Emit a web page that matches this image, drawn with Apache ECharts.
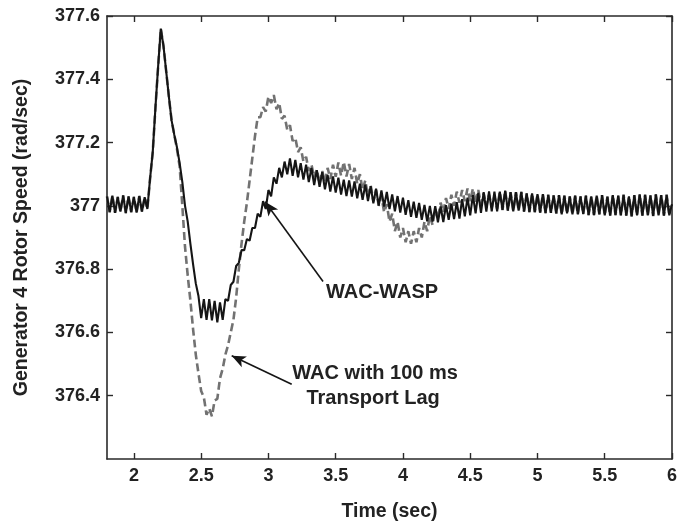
<!DOCTYPE html>
<html><head><meta charset="utf-8">
<script src="https://cdn.jsdelivr.net/npm/echarts@6/dist/echarts.min.js"></script>
<style>html,body{margin:0;padding:0;background:#fff}#c{width:690px;height:527px}</style>
</head><body><div id="c"></div>
<script>
// sample times (sec)
const timeSec = [
1.80,1.82,1.84,1.86,1.88,1.90,1.92,1.94,1.96,1.98,
2.00,2.02,2.04,2.06,2.08,2.10,2.12,2.14,2.16,2.18,
2.20,2.22,2.24,2.26,2.28,2.30,2.32,2.34,2.36,2.38,
2.40,2.42,2.44,2.46,2.48,2.50,2.52,2.54,2.56,2.58,
2.60,2.62,2.64,2.66,2.68,2.70,2.72,2.74,2.76,2.78,
2.80,2.82,2.84,2.86,2.88,2.90,2.92,2.94,2.96,2.98,
3.00,3.02,3.04,3.06,3.08,3.10,3.12,3.14,3.16,3.18,
3.20,3.22,3.24,3.26,3.28,3.30,3.32,3.34,3.36,3.38,
3.40,3.42,3.44,3.46,3.48,3.50,3.52,3.54,3.56,3.58,
3.60,3.62,3.64,3.66,3.68,3.70,3.72,3.74,3.76,3.78,
3.80,3.82,3.84,3.86,3.88,3.90,3.92,3.94,3.96,3.98,
4.00,4.02,4.04,4.06,4.08,4.10,4.12,4.14,4.16,4.18,
4.20,4.22,4.24,4.26,4.28,4.30,4.32,4.34,4.36,4.38,
4.40,4.42,4.44,4.46,4.48,4.50,4.52,4.54,4.56,4.58,
4.60,4.62,4.64,4.66,4.68,4.70,4.72,4.74,4.76,4.78,
4.80,4.82,4.84,4.86,4.88,4.90,4.92,4.94,4.96,4.98,
5.00,5.02,5.04,5.06,5.08,5.10,5.12,5.14,5.16,5.18,
5.20,5.22,5.24,5.26,5.28,5.30,5.32,5.34,5.36,5.38,
5.40,5.42,5.44,5.46,5.48,5.50,5.52,5.54,5.56,5.58,
5.60,5.62,5.64,5.66,5.68,5.70,5.72,5.74,5.76,5.78,
5.80,5.82,5.84,5.86,5.88,5.90,5.92,5.94,5.96,5.98,
6.00];

// WAC-WASP (solid black), rad/sec
const waspSpeed = [
377.030,376.980,377.032,376.978,377.028,376.982,377.033,376.977,377.030,376.980,
377.028,376.979,377.031,376.982,377.027,376.990,377.085,377.170,377.310,377.440,
377.560,377.505,377.425,377.345,377.270,377.225,377.185,377.135,377.075,377.000,
376.950,376.880,376.815,376.755,376.715,376.645,376.705,376.640,376.705,376.638,
376.700,376.632,376.695,376.640,376.705,376.700,376.750,376.760,376.810,376.820,
376.860,376.860,376.895,376.890,376.930,376.930,376.975,376.965,377.015,376.990,
377.050,377.030,377.090,377.070,377.120,377.090,377.140,377.100,377.150,377.095,
377.145,377.090,377.135,377.083,377.130,377.075,377.120,377.066,377.113,377.060,
377.107,377.052,377.098,377.045,377.093,377.042,377.089,377.036,377.083,377.031,
377.080,377.029,377.077,377.024,377.070,377.019,377.067,377.015,377.062,377.008,
377.054,377.001,377.049,376.998,377.044,376.990,377.036,376.983,377.031,376.979,
377.026,376.972,377.018,376.965,377.013,376.962,377.009,376.956,377.003,376.951,
377.000,376.950,376.999,376.948,376.998,376.949,377.002,376.956,377.007,376.958,
377.012,376.960,377.021,376.967,377.026,376.970,377.034,376.976,377.041,376.978,
377.043,376.982,377.046,376.983,377.045,376.983,377.045,376.987,377.048,376.985,
377.043,376.983,377.043,376.985,377.044,376.982,377.039,376.980,377.039,376.980,
377.037,376.979,377.037,376.977,377.035,376.978,377.033,376.976,377.034,376.973,
377.032,376.976,377.030,376.973,377.032,376.973,377.030,376.974,377.032,376.971,
377.030,376.971,377.032,376.973,377.034,376.970,377.029,376.969,377.034,376.971,
377.032,376.970,377.035,376.969,377.030,376.967,377.034,376.970,377.036,376.969,
377.035,376.970,377.033,376.968,377.036,376.970,377.034,376.969,377.035,376.970,
377.005];

// WAC with 100 ms transport lag (dashed gray), rad/sec
const lagSpeed = [
377.030,376.980,377.032,376.978,377.028,376.982,377.033,376.977,377.030,376.980,
377.028,376.979,377.031,376.982,377.027,376.990,377.085,377.170,377.310,377.440,
377.560,377.505,377.425,377.345,377.270,377.225,377.180,377.125,377.000,376.870,
376.780,376.700,376.610,376.530,376.470,376.415,376.395,376.340,376.360,376.335,
376.385,376.390,376.455,376.485,376.530,376.560,376.600,376.640,376.710,376.800,
376.880,376.950,377.010,377.080,377.150,377.220,377.280,377.280,377.312,377.298,
377.345,377.325,377.350,377.305,377.325,377.275,377.285,377.240,377.255,377.205,
377.215,377.170,377.185,377.140,377.155,377.110,377.130,377.090,377.115,377.070,
377.110,377.075,377.120,377.085,377.130,377.092,377.137,377.095,377.139,377.093,
377.132,377.085,377.120,377.070,377.100,377.050,377.080,377.030,377.065,377.015,
377.050,377.000,377.030,376.980,377.005,376.950,376.975,376.920,376.950,376.900,
376.930,376.885,376.920,376.880,376.920,376.885,376.930,376.900,376.950,376.920,
376.970,376.940,376.990,376.960,377.010,376.980,377.025,376.990,377.035,377.000,
377.045,377.010,377.050,377.015,377.055,377.015,377.055,377.010,377.050,377.005,
377.040,377.000,377.035,376.995,377.030,376.990,377.045,376.987,377.048,376.985,
377.043,376.983,377.043,376.985,377.044,376.982,377.039,376.980,377.039,376.980,
377.037,376.979,377.037,376.977,377.035,376.978,377.033,376.976,377.034,376.973,
377.032,376.976,377.030,376.973,377.032,376.973,377.030,376.974,377.032,376.971,
377.030,376.971,377.032,376.973,377.034,376.970,377.029,376.969,377.034,376.971,
377.032,376.970,377.035,376.969,377.030,376.967,377.034,376.970,377.036,376.969,
377.035,376.970,377.033,376.968,377.036,376.970,377.034,376.969,377.035,376.970,
377.005];

const xTicks = [2,2.5,3,3.5,4,4.5,5,5.5,6];
const yTicks = [376.4,376.6,376.8,377,377.2,377.4,377.6];
const xTitle = 'Time (sec)';
const yTitle = 'Generator 4 Rotor Speed (rad/sec)';
const noteTexts = ['WAC-WASP','WAC with 100 ms','Transport Lag'];
const noteAt = [[3.845,376.727],[3.793,376.471],[3.778,376.392]];
const arrowFrom = [[3.406,376.761],[3.173,376.436]];
const arrowTo = [[2.975,377.013],[2.727,376.526]];

const FONT = '"Liberation Sans", Arial, Helvetica, sans-serif';
const AX = '#2a2a2a';
const TXT = '#222';
const chart = echarts.init(document.getElementById('c'), null, {renderer:'canvas'});
const pairs = v => timeSec.map((t,i)=>[t,v[i]]);
const fmtY = v => (Math.abs(v-377)<1e-9 ? '377' : v.toFixed(1));
const fmtX = v => String(Math.round(v*10)/10);
const axLine = {show:true,onZero:false,lineStyle:{color:AX,width:1.6}};
const tickStyle = {color:AX,width:1.4};
const labStyle = {fontSize:18,fontWeight:'bold',color:TXT,fontFamily:FONT};
const titleStyle = {fontSize:19.5,fontWeight:'bold',color:TXT,fontFamily:FONT};

const option = {
  animation:false,
  backgroundColor:'#fff',
  grid:{left:107,right:18,top:16,bottom:67,show:false},
  xAxis:[
    {type:'value',min:1.8,max:6,position:'bottom',axisLine:axLine,
     axisTick:{show:true,inside:true,length:6,customValues:xTicks,lineStyle:tickStyle},
     axisLabel:Object.assign({show:true,customValues:xTicks,formatter:fmtX,margin:8},labStyle),
     splitLine:{show:false},
     name:xTitle,nameLocation:'middle',nameGap:43,nameTextStyle:titleStyle},
    {type:'value',min:1.8,max:6,position:'top',axisLine:axLine,
     axisTick:{show:true,inside:true,length:6,customValues:xTicks,lineStyle:tickStyle},
     axisLabel:{show:false},splitLine:{show:false}}
  ],
  yAxis:[
    {type:'value',min:376.2,max:377.6,position:'left',axisLine:axLine,
     axisTick:{show:true,inside:true,length:6,customValues:yTicks,lineStyle:tickStyle},
     axisLabel:Object.assign({show:true,customValues:yTicks,formatter:fmtY,margin:7},labStyle),
     splitLine:{show:false},
     name:yTitle,nameLocation:'middle',nameGap:75,nameTextStyle:titleStyle},
    {type:'value',min:376.2,max:377.6,position:'right',axisLine:axLine,
     axisTick:{show:true,inside:true,length:6,customValues:yTicks,lineStyle:tickStyle},
     axisLabel:{show:false},splitLine:{show:false}}
  ],
  series:[
    {type:'line',name:'WAC with 100 ms Transport Lag',xAxisIndex:0,yAxisIndex:0,
     data:pairs(lagSpeed),symbol:'none',smooth:false,
     lineStyle:{color:'#727272',width:2.6,type:[8,4]}},
    {type:'line',name:'WAC-WASP',xAxisIndex:0,yAxisIndex:0,
     data:pairs(waspSpeed),symbol:'none',smooth:false,
     lineStyle:{color:'#151515',width:2.1},
     markLine:{silent:true,animation:false,symbol:['none','arrow'],symbolSize:[9,14],
       label:{show:false},lineStyle:{color:'#151515',width:1.6,type:'solid'},
       emphasis:{disabled:true},
       data:arrowFrom.map((f,i)=>[{coord:f},{coord:arrowTo[i]}])}}
  ]
};
chart.setOption(option);
chart.setOption({
  graphic: noteTexts.map((t,i)=>{
    const p = chart.convertToPixel({xAxisIndex:0,yAxisIndex:0}, noteAt[i]);
    return {type:'text',x:p[0],y:p[1],silent:true,
      style:{text:t,fontSize:20,fontWeight:'bold',fontFamily:FONT,fill:TXT,align:'center',verticalAlign:'middle'}};
  })
});
</script></body></html>
